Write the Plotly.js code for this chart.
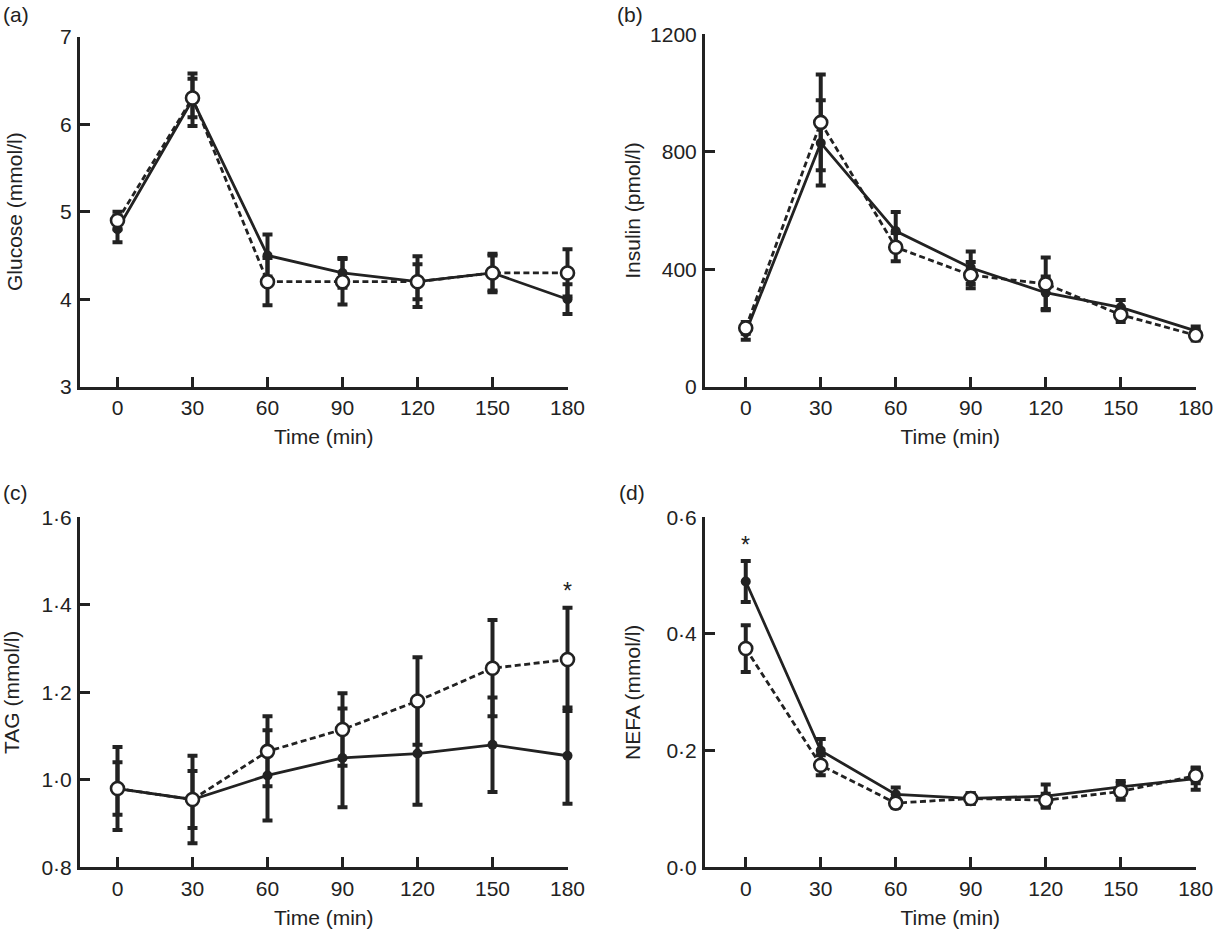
<!DOCTYPE html>
<html>
<head>
<meta charset="utf-8">
<script src="https://cdn.plot.ly/plotly-3.0.1.min.js"></script>
<style>html,body{margin:0;padding:0;background:#fff;}</style>
</head>
<body>
<div id="chart" style="width:1214px;height:931px;"></div>
<script>
// ---- data ----
var times = [0, 30, 60, 90, 120, 150, 180];

// (a) Glucose (mmol/l)
var glucFilled    = [4.80, 6.28, 4.50, 4.30, 4.20, 4.30, 4.00];
var glucFilledErr = [0.15, 0.30, 0.24, 0.17, 0.29, 0.22, 0.17];
var glucOpen      = [4.90, 6.30, 4.20, 4.20, 4.20, 4.30, 4.30];
var glucOpenErr   = [0.10, 0.22, 0.27, 0.26, 0.20, 0.20, 0.27];

// (b) Insulin (pmol/l)
var insFilled    = [185, 830, 530, 405, 320, 270, 190];
var insFilledErr = [25, 145, 65, 55, 55, 25, 15];
var insOpen      = [200, 900, 475, 380, 350, 245, 175];
var insOpenErr   = [20, 163, 48, 45, 90, 25, 18];

// (c) TAG (mmol/l)
var tagFilled    = [0.980, 0.955, 1.010, 1.050, 1.060, 1.080, 1.055];
var tagFilledErr = [0.095, 0.100, 0.103, 0.113, 0.117, 0.108, 0.110];
var tagOpen      = [0.980, 0.955, 1.065, 1.115, 1.180, 1.255, 1.275];
var tagOpenErr   = [0.060, 0.065, 0.080, 0.083, 0.100, 0.110, 0.118];

// (d) NEFA (mmol/l)
var nefaFilled    = [0.490, 0.200, 0.125, 0.118, 0.122, 0.138, 0.152];
var nefaFilledErr = [0.035, 0.020, 0.012, 0.009, 0.020, 0.010, 0.019];
var nefaOpen      = [0.375, 0.175, 0.110, 0.118, 0.115, 0.130, 0.157];
var nefaOpenErr   = [0.040, 0.017, 0.008, 0.009, 0.011, 0.014, 0.013];

// tick labels
var xTickVals = [0, 30, 60, 90, 120, 150, 180];
var xTickText = ['0', '30', '60', '90', '120', '150', '180'];
var glucTickVals = [3, 4, 5, 6, 7];
var glucTickText = ['3', '4', '5', '6', '7'];
var insTickVals = [0, 400, 800, 1200];
var insTickText = ['0', '400', '800', '1200'];
var tagTickVals = [0.8, 1.0, 1.2, 1.4, 1.6];
var tagTickText = ['0·8', '1·0', '1·2', '1·4', '1·6'];
var nefaTickVals = [0, 0.2, 0.4, 0.6];
var nefaTickText = ['0·0', '0·2', '0·4', '0·6'];

// significance markers
var tagStarX = [180], tagStarY = [1.432];
var nefaStarX = [0], nefaStarY = [0.553];

// ---- styling ----
var INK = '#222222';
var FONT = 'Liberation Sans, Arial, Helvetica, sans-serif';
var TICK = 21, TITLE = 21;
var W = 1214, H = 931;
var PAD = 10; // extra px to the right of the 180 tick so end error bars are not clipped

function pair(xa, ya, yF, eF, yO, eO) {
  return [
    {
      x: times, y: yF, xaxis: xa, yaxis: ya, type: 'scatter', mode: 'lines+markers',
      cliponaxis: false,
      line: {color: INK, width: 2.8},
      marker: {color: INK, size: 10, symbol: 'circle'},
      error_y: {type: 'data', array: eF, visible: true, color: INK, thickness: 4, width: 5},
      showlegend: false, hoverinfo: 'skip'
    },
    {
      x: times, y: yO, xaxis: xa, yaxis: ya, type: 'scatter', mode: 'lines+markers',
      cliponaxis: false,
      line: {color: INK, width: 2.8, dash: '6px,3.5px'},
      marker: {color: '#ffffff', size: 13, symbol: 'circle', line: {color: INK, width: 2.6}},
      error_y: {type: 'data', array: eO, visible: true, color: INK, thickness: 4, width: 5},
      showlegend: false, hoverinfo: 'skip'
    }
  ];
}
// empty carrier trace so the visible (tick/label) x-axis gets drawn
function carrier(xa, ya) {
  return {x: [], y: [], xaxis: xa, yaxis: ya, type: 'scatter', mode: 'markers',
          showlegend: false, hoverinfo: 'skip'};
}

var data = [].concat(
  pair('x', 'y', glucFilled, glucFilledErr, glucOpen, glucOpenErr),
  pair('x2', 'y2', insFilled, insFilledErr, insOpen, insOpenErr),
  pair('x3', 'y3', tagFilled, tagFilledErr, tagOpen, tagOpenErr),
  pair('x4', 'y4', nefaFilled, nefaFilledErr, nefaOpen, nefaOpenErr),
  [carrier('x5', 'y'), carrier('x6', 'y2'), carrier('x7', 'y3'), carrier('x8', 'y4')]
);

// data axis: same scale as the visible axis, but extends PAD px further right (invisible)
function xDataAxis(domPx, range, anchor) {
  var pxPerUnit = (domPx[1] - domPx[0]) / (range[1] - range[0]);
  return {
    domain: [domPx[0] / W, (domPx[1] + PAD) / W],
    range: [range[0], range[1] + PAD / pxPerUnit], anchor: anchor,
    visible: false, showline: false, showgrid: false, zeroline: false, fixedrange: true
  };
}
// visible axis: exact extent of the drawn axis line (ends at the 180 tick)
function xAxis(domPx, range, anchor) {
  return {
    domain: [domPx[0] / W, domPx[1] / W], range: range, anchor: anchor,
    showline: true, linecolor: INK, linewidth: 3, mirror: false,
    showgrid: false, zeroline: false,
    ticks: 'inside', ticklen: 10, tickwidth: 3, tickcolor: INK,
    tickvals: xTickVals, ticktext: xTickText,
    tickfont: {family: FONT, size: TICK, color: INK},
    ticklabelstandoff: 0,
    title: {text: 'Time (min)', font: {family: FONT, size: TITLE, color: INK}, standoff: 12},
    fixedrange: true
  };
}
function yAxis(domPx, range, anchor, vals, text, title, standoff) {
  return {
    domain: [1 - domPx[1] / H, 1 - domPx[0] / H], range: range, anchor: anchor,
    showline: true, linecolor: INK, linewidth: 3, mirror: false,
    showgrid: false, zeroline: false,
    ticks: 'inside', ticklen: 10, tickwidth: 3, tickcolor: INK,
    tickvals: vals, ticktext: text,
    tickfont: {family: FONT, size: TICK, color: INK},
    ticklabelstandoff: 1,
    title: {text: title, font: {family: FONT, size: TITLE, color: INK}, standoff: standoff},
    fixedrange: true
  };
}

var domA = [80, 567.5], rngA = [-15, 180];
var domB = [705, 1195.7], rngB = [-16.3, 180];

var layout = {
  width: W, height: H,
  margin: {l: 0, r: 0, t: 0, b: 0},
  paper_bgcolor: '#ffffff', plot_bgcolor: 'rgba(0,0,0,0)',
  font: {family: FONT, color: INK},
  showlegend: false,
  xaxis:  xDataAxis(domA, rngA, 'y'),
  xaxis2: xDataAxis(domB, rngB, 'y2'),
  xaxis3: xDataAxis(domA, rngA, 'y3'),
  xaxis4: xDataAxis(domB, rngB, 'y4'),
  xaxis5: xAxis(domA, rngA, 'y'),
  xaxis6: xAxis(domB, rngB, 'y2'),
  xaxis7: xAxis(domA, rngA, 'y3'),
  xaxis8: xAxis(domB, rngB, 'y4'),
  yaxis:  yAxis([36.7, 386.7], [3, 7], 'x', glucTickVals, glucTickText, 'Glucose (mmol/l)', 32),
  yaxis2: yAxis([34.3, 386.7], [0, 1200], 'x2', insTickVals, insTickText, 'Insulin (pmol/l)', 4),
  yaxis3: yAxis([517.3, 867.3], [0.8, 1.6], 'x3', tagTickVals, tagTickText, 'TAG (mmol/l)', 17),
  yaxis4: yAxis([517.3, 867.3], [0, 0.6], 'x4', nefaTickVals, nefaTickText, 'NEFA (mmol/l)', 21),
  annotations: [
    {text: '(a)', xref: 'paper', yref: 'paper', x: 1 / W, y: 1 - 15 / H, xanchor: 'left', yanchor: 'middle', showarrow: false, font: {family: FONT, size: TITLE, color: INK}},
    {text: '(b)', xref: 'paper', yref: 'paper', x: 615 / W, y: 1 - 15 / H, xanchor: 'left', yanchor: 'middle', showarrow: false, font: {family: FONT, size: TITLE, color: INK}},
    {text: '(c)', xref: 'paper', yref: 'paper', x: 1 / W, y: 1 - 493 / H, xanchor: 'left', yanchor: 'middle', showarrow: false, font: {family: FONT, size: TITLE, color: INK}},
    {text: '(d)', xref: 'paper', yref: 'paper', x: 617 / W, y: 1 - 493 / H, xanchor: 'left', yanchor: 'middle', showarrow: false, font: {family: FONT, size: TITLE, color: INK}},
    {text: '*', xref: 'x3', yref: 'y3', x: tagStarX[0], y: tagStarY[0], showarrow: false, font: {family: FONT, size: 23, color: INK}},
    {text: '*', xref: 'x4', yref: 'y4', x: nefaStarX[0], y: nefaStarY[0], showarrow: false, font: {family: FONT, size: 23, color: INK}}
  ]
};

Plotly.newPlot('chart', data, layout, {staticPlot: true, displayModeBar: false});
</script>
</body>
</html>
